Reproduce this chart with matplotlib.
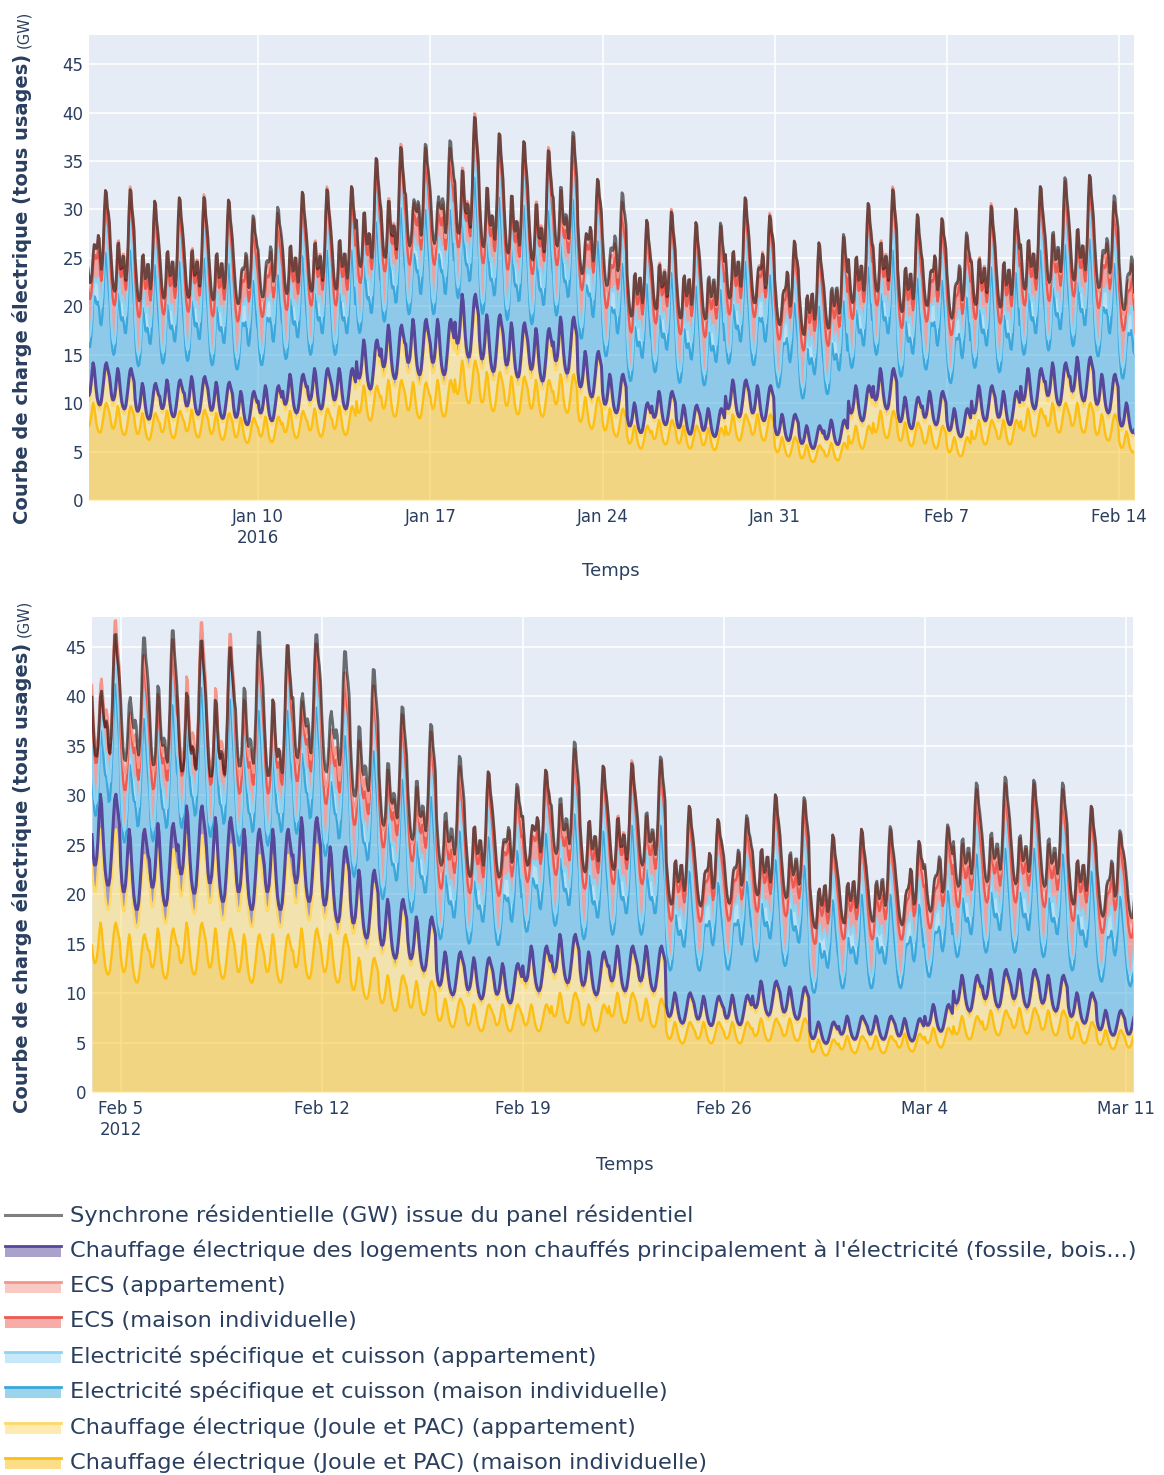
import numpy as np
import matplotlib
matplotlib.use('Agg')
import matplotlib.pyplot as plt
import matplotlib.dates as mdates
from matplotlib.ticker import FuncFormatter, MultipleLocator

# profils horaires (0h..23h), forme
profil_chauffage = [1.02, 0.94, 0.90, 0.90, 0.93, 1.00, 1.10, 1.18, 1.14, 1.04, 0.95, 0.88,
                    0.84, 0.82, 0.82, 0.85, 0.92, 1.00, 1.09, 1.16, 1.18, 1.14, 1.10, 1.06]
profil_elec_semaine = [0.85, 0.72, 0.63, 0.58, 0.56, 0.58, 0.72, 0.95, 1.02, 0.98, 0.98, 1.05,
                       1.15, 1.10, 0.98, 0.93, 0.98, 1.15, 1.42, 1.55, 1.48, 1.32, 1.15, 1.00]
profil_elec_weekend = [0.90, 0.78, 0.68, 0.62, 0.58, 0.58, 0.62, 0.75, 0.92, 1.05, 1.12, 1.20,
                       1.30, 1.22, 1.05, 0.98, 1.00, 1.12, 1.35, 1.45, 1.38, 1.25, 1.12, 1.00]
profil_ecs = [1.35, 1.45, 1.4, 1.3, 1.2, 1.05, 0.9, 0.8, 0.78, 0.75, 0.75, 0.8,
              0.95, 1.1, 1.0, 0.85, 0.78, 0.75, 0.75, 0.8, 0.85, 0.9, 1.15, 1.3]

# niveaux moyens des usages peu thermosensibles (GW)
elec_maison = 8.0
elec_app = 1.9
ecs_maison = 3.2
ecs_app = 1.4

# hiver 2016 : niveaux journaliers (GW), du 3 janvier au 14 fevrier
debut_2016 = '2016-01-03'
chauffage_maison_2016 = [8.5, 8.2, 7.6, 7.8, 7.9, 7.6, 7.2, 7.3, 7.8, 8.0,
                         8.2, 10.0, 10.5, 10.3, 10.5, 12.2, 11.2, 10.8, 10.5, 11.0,
                         9.0, 8.0, 6.5, 7.0, 6.5, 6.3, 7.5, 7.5, 5.5, 4.8,
                         5.0, 6.5, 7.8, 6.8, 6.5, 5.5, 7.0, 7.0, 8.0, 8.5,
                         8.5, 7.5, 6.0]
chauffage_app_2016 = [2.8, 2.6, 2.1, 2.2, 2.3, 2.2, 1.8, 2.2, 2.5, 2.8,
                      2.6, 3.2, 3.7, 4.3, 4.1, 4.5, 3.9, 3.7, 3.5, 3.9,
                      3.2, 2.4, 1.6, 2.0, 1.4, 1.3, 2.4, 2.0, 1.6, 1.3,
                      1.6, 2.8, 2.9, 1.8, 2.4, 2.0, 2.4, 2.0, 2.8, 2.8,
                      3.2, 2.8, 2.0]
chauffage_autres_2016 = [0.7, 0.7, 0.5, 0.5, 0.6, 0.5, 0.5, 0.5, 0.7, 0.7,
                         0.7, 0.8, 1.1, 1.2, 1.2, 1.3, 1.1, 1.0, 1.0, 1.1,
                         0.8, 0.6, 0.4, 0.5, 0.4, 0.4, 0.6, 0.5, 0.4, 0.4,
                         0.4, 0.7, 0.8, 0.4, 0.6, 0.5, 0.6, 0.5, 0.7, 0.7,
                         0.8, 0.7, 0.5]
ratio_synchrone_2016 = [1.00, 0.99, 1.00, 1.00, 0.99, 1.00, 1.01, 1.02, 1.00, 0.99,
                        1.00, 1.00, 0.99, 1.01, 1.02, 0.99, 1.00, 1.00, 0.99, 1.01,
                        1.00, 1.03, 1.00, 0.99, 1.00, 1.01, 1.00, 0.99, 1.00, 1.00,
                        1.01, 1.00, 0.99, 1.00, 1.00, 1.01, 0.99, 1.00, 1.00, 1.01,
                        1.00, 1.02, 1.03]
xlim_2016 = ('2016-01-03T03:00', '2016-02-14T14:30')

# hiver 2012 : niveaux journaliers (GW), du 4 fevrier au 11 mars
debut_2012 = '2012-02-04'
chauffage_maison_2012 = [14.5, 13.5, 14.0, 14.5, 14.0, 13.5, 13.5, 14.0, 13.5, 11.5,
                         10.0, 9.5, 8.0, 7.5, 7.5, 7.5, 8.5, 7.5, 8.5, 8.0,
                         6.0, 6.0, 6.0, 6.3, 6.3, 4.5, 4.8, 4.8, 5.0, 5.5,
                         6.5, 7.0, 7.2, 7.0, 6.0, 5.3, 5.0]
chauffage_app_2012 = [8.0, 6.8, 6.8, 7.5, 7.2, 6.8, 6.8, 7.2, 6.0, 6.3,
                      5.5, 4.7, 3.3, 3.3, 2.9, 4.2, 4.2, 3.8, 3.3, 3.8,
                      2.0, 1.8, 1.9, 2.6, 2.2, 1.2, 1.4, 1.4, 1.0, 1.6,
                      2.8, 2.8, 2.6, 2.4, 2.0, 1.4, 1.2]
chauffage_autres_2012 = [3.0, 2.2, 2.2, 2.5, 2.3, 2.2, 2.2, 2.3, 1.5, 1.2,
                         1.0, 0.8, 0.7, 0.7, 0.6, 0.8, 0.8, 0.7, 0.7, 0.7,
                         0.5, 0.4, 0.4, 0.6, 0.5, 0.3, 0.3, 0.3, 0.3, 0.4,
                         0.7, 0.7, 0.7, 0.6, 0.5, 0.3, 0.3]
ratio_synchrone_2012 = [0.97, 1.04, 1.02, 0.96, 0.97, 1.03, 1.00, 1.02, 1.05, 1.04,
                        1.02, 1.02, 1.03, 1.00, 1.01, 1.00, 1.02, 1.00, 0.99, 1.01,
                        1.00, 1.00, 1.01, 1.00, 1.01, 1.00, 1.00, 1.01, 1.00, 1.01,
                        1.02, 1.02, 1.01, 1.02, 1.00, 1.01, 1.03]
xlim_2012 = ('2012-02-04T00:00', '2012-03-11T06:00')

noms = ['Synchrone résidentielle (GW) issue du panel résidentiel',
        "Chauffage électrique des logements non chauffés principalement à l'électricité (fossile, bois...)",
        'ECS (appartement)',
        'ECS (maison individuelle)',
        'Electricité spécifique et cuisson (appartement)',
        'Electricité spécifique et cuisson (maison individuelle)',
        'Chauffage électrique (Joule et PAC) (appartement)',
        'Chauffage électrique (Joule et PAC) (maison individuelle)']
couleurs = ['#000000', '#56479a', '#f4968a', '#ef5a50', '#8fd3f2', '#3aa8dd', '#ffd966', '#fdbf12']

BG = '#e5ecf6'
TXT = '#2a3f5f'


def horaire(debut, niveaux, profil, profil_we=None):
    d0 = np.datetime64(debut, 'D')
    vals = []
    for i, niv in enumerate(niveaux):
        wd = ((d0 + i).astype('int64') - 4) % 7  # 0 = lundi
        p = profil_we if (profil_we is not None and wd >= 5) else profil
        vals.extend(niv * np.array(p))
    t = np.datetime64(debut, 'h') + np.arange(24 * len(niveaux))
    return t, np.array(vals)


def series(debut, ch_m, ch_a, ch_x, ratio):
    n = len(ch_m)
    t, hm = horaire(debut, ch_m, profil_chauffage)
    _, ha = horaire(debut, ch_a, profil_chauffage)
    _, hx = horaire(debut, ch_x, profil_chauffage)
    _, em = horaire(debut, [elec_maison] * n, profil_elec_semaine, profil_elec_weekend)
    _, ea = horaire(debut, [elec_app] * n, profil_elec_semaine, profil_elec_weekend)
    _, sm = horaire(debut, [ecs_maison] * n, profil_ecs)
    _, sa = horaire(debut, [ecs_app] * n, profil_ecs)
    _, r = horaire(debut, ratio, [1.0] * 24)
    # ordre d'empilement, du bas vers le haut
    couches = [(hm, couleurs[7]), (ha, couleurs[6]), (hx, couleurs[1]),
               (em, couleurs[5]), (ea, couleurs[4]), (sm, couleurs[3]), (sa, couleurs[2])]
    total = hm + ha + hx + em + ea + sm + sa
    return t, couches, total * r


W, H = 1164, 1475
fig = plt.figure(figsize=(W / 100, H / 100), dpi=100)
fig.patch.set_facecolor('white')


def px_axes(l, t, r, b):
    return fig.add_axes([l / W, 1 - b / H, (r - l) / W, (b - t) / H])


def fmt_date(x, pos):
    d = mdates.num2date(x)
    s = d.strftime('%b ') + str(d.day)
    if pos == 0:
        s += '\n' + str(d.year)
    return s


def tracer(ax, t, couches, synchrone, xlim):
    ax.set_facecolor(BG)
    bas = np.zeros(len(t))
    hauts = []
    for vals, c in couches:
        haut = bas + vals
        ax.fill_between(t, bas, haut, color=c, alpha=0.5, lw=0, zorder=2)
        hauts.append((haut, c))
        bas = haut
    for haut, c in hauts:
        lw = 2.2 if c == couleurs[1] else 1.7
        ax.plot(t, haut, color=c, lw=lw, zorder=3)
    ax.plot(t, synchrone, color='black', alpha=0.55, lw=2.0, zorder=4)
    ax.set_xlim(np.datetime64(xlim[0]), np.datetime64(xlim[1]))
    ax.set_ylim(0, 48)
    ax.yaxis.set_major_locator(MultipleLocator(5))
    ax.xaxis.set_major_locator(mdates.WeekdayLocator(byweekday=mdates.SU))
    ax.xaxis.set_major_formatter(FuncFormatter(fmt_date))
    ax.grid(color='white', lw=1.1, zorder=1)
    ax.set_axisbelow(True)
    for s in ax.spines.values():
        s.set_visible(False)
    ax.tick_params(length=0, labelsize=12, labelcolor=TXT, pad=4)
    ax.tick_params(axis='x', pad=6)


def ylabel(x_px, yc_px):
    r = fig.canvas.get_renderer()
    t1 = fig.text(0, 0, 'Courbe de charge électrique (tous usages)', rotation=90,
                  fontsize=14, fontweight='bold', color=TXT, ha='center', va='bottom')
    t2 = fig.text(0, 0, '(GW)', rotation=90, fontsize=10.5, color=TXT, ha='center', va='bottom')
    h1 = t1.get_window_extent(r).height
    h2 = t2.get_window_extent(r).height
    gap = 6
    tot = h1 + gap + h2
    y0 = yc_px + tot / 2  # bas du libelle, en px depuis le haut
    t1.set_position((x_px / W, 1 - y0 / H))
    t2.set_position(((x_px + 2) / W, 1 - (y0 - h1 - gap) / H))


ax1 = px_axes(89, 35, 1134, 500)
t, c, s = series(debut_2016, chauffage_maison_2016, chauffage_app_2016,
                 chauffage_autres_2016, ratio_synchrone_2016)
tracer(ax1, t, c, s, xlim_2016)

ax2 = px_axes(92, 617, 1133, 1092)
t, c, s = series(debut_2012, chauffage_maison_2012, chauffage_app_2012,
                 chauffage_autres_2012, ratio_synchrone_2012)
tracer(ax2, t, c, s, xlim_2012)

fig.text(611 / W, 1 - 571 / H, 'Temps', fontsize=13, color=TXT, ha='center', va='center')
fig.text(625 / W, 1 - 1165 / H, 'Temps', fontsize=13, color=TXT, ha='center', va='center')
ylabel(22, 267)
ylabel(22, 856)

# legende
lg = fig.add_axes([0, 0, 1, 1], facecolor='none')
lg.set_xlim(0, W)
lg.set_ylim(H, 0)
lg.axis('off')
y_rows = [1215, 1250, 1286, 1321, 1356, 1391, 1427, 1462]
for i, (nom, col) in enumerate(zip(noms, couleurs)):
    y = y_rows[i]
    if i == 0:
        lg.plot([5, 61], [y, y], color=col, alpha=0.5, lw=2.2)
    else:
        lg.fill_between([5, 61], y - 4, y + 7, color=col, alpha=0.5, lw=0)
        lg.plot([5, 61], [y - 4, y - 4], color=col, lw=2.0)
    lg.text(70, y, nom, fontsize=16.2, color=TXT, va='center', ha='left')

fig.savefig('out.png', dpi=100, facecolor='white')
